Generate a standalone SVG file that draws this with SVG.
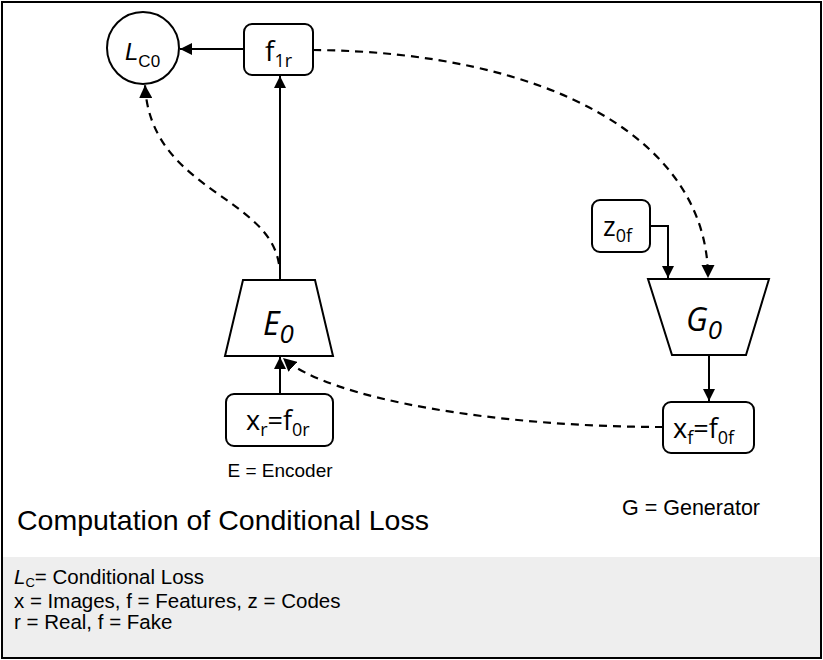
<svg xmlns="http://www.w3.org/2000/svg" width="823" height="660" viewBox="0 0 823 660">
<style>
.n{fill:#fff;stroke:#000;stroke-width:2}
.c{fill:none;stroke:#000;stroke-width:2}
.d{fill:none;stroke:#000;stroke-width:2.2;stroke-dasharray:8 6}
.lb{font-family:"Open Sans","DejaVu Sans",sans-serif;fill:#000}
.ar{font-family:"Liberation Sans",Arial,sans-serif;fill:#000}
</style>
<defs>
<marker id="ah" viewBox="0 0 10 10" refX="10" refY="5" markerWidth="6" markerHeight="6" orient="auto" markerUnits="strokeWidth">
<path d="M0,0 L10,5 L0,10 z" fill="#000"/>
</marker>
</defs>
<rect x="0" y="0" width="823" height="660" fill="#fff"/>
<rect x="2" y="557" width="819" height="101" fill="#eeeeee"/>
<rect x="2" y="2" width="819" height="656" fill="none" stroke="#000" stroke-width="2"/>

<g id="connectors">
<line class="c" x1="244" y1="49" x2="180" y2="49" marker-end="url(#ah)"/>
<line class="c" x1="280" y1="280" x2="280" y2="76" marker-end="url(#ah)"/>
<line class="c" x1="280" y1="394" x2="280" y2="357" marker-end="url(#ah)"/>
<path class="c" d="M650,226 H668 V278" marker-end="url(#ah)"/>
<line class="c" x1="709" y1="355" x2="709" y2="401" marker-end="url(#ah)"/>
<path class="d" d="M313,50 C550,52 708,140 708,278" marker-end="url(#ah)"/>
<path class="d" d="M279,264 C268,195 150,190 145,85" marker-end="url(#ah)"/>
<path class="d" d="M663,427 C500,427 330,400 283,358" marker-end="url(#ah)"/>
</g>

<g id="LC0">
<circle class="n" cx="143" cy="48" r="36"/>
<text class="ar" x="125" y="60" font-size="24" font-style="italic">L<tspan font-style="normal" font-size="17" dy="7">C0</tspan></text>
</g>

<g id="f1r">
<rect class="n" x="244" y="24" width="69" height="51" rx="8"/>
<text class="lb" x="265" y="61" font-size="28">f<tspan font-size="18" dy="6">1r</tspan></text>
</g>

<g id="E0">
<polygon class="n" points="243,280 315,280 333,356 225,356"/>
<text class="lb" x="263" y="335" font-size="32" font-style="italic">E<tspan font-size="26" dy="8">0</tspan></text>
</g>

<g id="xr">
<rect class="n" x="226" y="394" width="107" height="52" rx="8"/>
<text class="lb" x="246" y="430" font-size="27">x<tspan font-size="18" dy="6">r</tspan><tspan dy="-6">=f</tspan><tspan font-size="18" dy="6">0r</tspan></text>
</g>

<g id="z0f">
<rect class="n" x="592" y="200" width="58" height="52" rx="8"/>
<text class="lb" x="603" y="236" font-size="27">z<tspan font-size="18" dy="6">0f</tspan></text>
</g>

<g id="G0">
<polygon class="n" points="648,279 769,279 746,355 672,355"/>
<text class="lb" x="686" y="331" font-size="32" font-style="italic">G<tspan font-size="26" dy="8">0</tspan></text>
</g>

<g id="xf">
<rect class="n" x="663" y="402" width="91" height="51" rx="8"/>
<text class="lb" x="673" y="438" font-size="27">x<tspan font-size="18" dy="6">f</tspan><tspan dy="-6">=f</tspan><tspan font-size="18" dy="6">0f</tspan></text>
</g>

<text class="ar" x="280" y="477" font-size="19" text-anchor="middle">E = Encoder</text>
<text class="ar" x="691" y="515" font-size="21.5" text-anchor="middle">G = Generator</text>
<text class="ar" x="17" y="530" font-size="28.5">Computation of Conditional Loss</text>
<text class="ar" x="14" y="584" font-size="20.5"><tspan font-style="italic">L</tspan><tspan font-size="13" dy="3">C</tspan><tspan dy="-3">= Conditional Loss</tspan></text>
<text class="ar" x="14" y="608" font-size="20.5">x = Images, f = Features, z = Codes</text>
<text class="ar" x="14" y="629" font-size="20.5">r = Real, f = Fake</text>
</svg>
